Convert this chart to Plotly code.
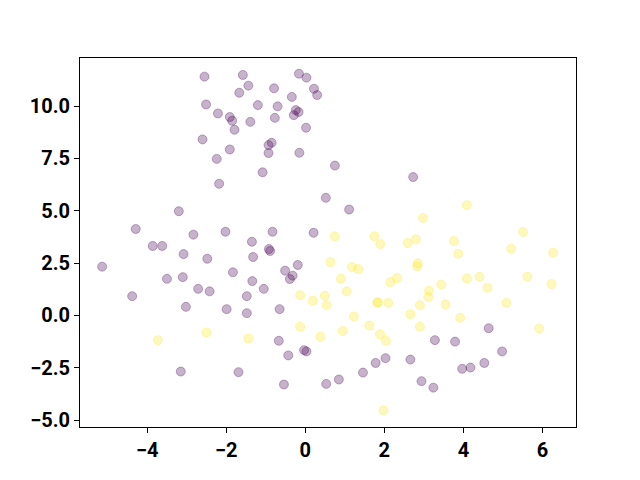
import plotly.graph_objects as go

purple_x = [-2.55, -1.58, -0.16, 0.03, -1.44, -0.79, -1.67, 0.22, 0.30, -0.34,
            -2.51, -1.20, -0.70, -0.24, -0.17, -0.29, -2.21, -1.91, -1.85, -1.39,
            -0.77, -1.79, 0.02, -2.60, -0.85, -0.93, -1.91, -0.93, -0.15, -2.24,
            -1.08, -2.18, 0.52, -3.20, -4.29, -2.83, -2.02, -0.83, 0.21,
            0.75, 2.73, 1.11,
            -0.03, 0.03, 4.64, 3.28, 3.79, 4.98, 2.03, 1.78, 2.66, 4.53, 3.97, 4.18,
            1.46, 0.53, 0.85, 2.94, 3.24,
            -1.35, -3.86, -3.62, -0.92, -0.89, -3.08, -2.48, -1.32, -5.14, -1.83,
            -0.19, -0.51, -0.32, -0.39, -3.50, -3.10, -1.34, -2.71, -2.42, -1.05,
            -4.38, -1.48, -3.02, -1.99, -0.65, -1.48, -0.67, -0.43, -3.15, -1.69, -0.54]
purple_y = [11.41, 11.49, 11.55, 11.36, 10.98, 10.85, 10.64, 10.83, 10.53, 10.44,
            10.08, 10.05, 9.99, 9.81, 9.72, 9.57, 9.65, 9.48, 9.30, 9.25,
            9.44, 8.87, 8.97, 8.41, 8.25, 8.14, 7.93, 7.76, 7.77, 7.48,
            6.84, 6.29, 5.62, 4.98, 4.13, 3.86, 4.00, 4.00, 3.95,
            7.16, 6.61, 5.06,
            -1.66, -1.72, -0.61, -1.18, -1.25, -1.72, -2.04, -2.27, -2.11, -2.27, -2.55, -2.49,
            -2.73, -3.27, -3.06, -3.14, -3.45,
            3.52, 3.32, 3.32, 3.17, 3.08, 2.93, 2.71, 2.79, 2.33, 2.06,
            2.41, 2.14, 1.90, 1.74, 1.75, 1.83, 1.64, 1.27, 1.15, 1.27,
            0.92, 0.92, 0.41, 0.30, 0.30, 0.11, -1.21, -1.91, -2.68, -2.71, -3.30]

yellow_x = [4.09, 2.98, 0.75, 1.75, 1.90, 2.59, 2.80, 3.76, 5.51, 3.87,
            5.21, 6.27, 0.64, 2.85, 2.83, 1.18, 1.34, 0.90, 2.32, 2.15,
            4.09, 4.41, 5.62, 6.23, 3.44, 4.61, 1.05, 3.13, -0.13, 0.49, 0.19,
            3.11, 0.54, 1.82, 1.84, 2.10, 2.90, 3.55, 5.09, 1.23, 2.66, 3.92,
            -0.13, 1.62, 2.90, 0.95, 0.38, 1.89, 2.04, 5.92, 1.98,
            -3.73, -2.50, -1.44]
yellow_y = [5.27, 4.66, 3.78, 3.78, 3.41, 3.46, 3.64, 3.56, 3.99, 2.95,
            3.19, 3.00, 2.55, 2.49, 2.35, 2.31, 2.22, 1.75, 1.79, 1.59,
            1.77, 1.85, 1.85, 1.50, 1.48, 1.32, 1.15, 1.18, 0.97, 0.94, 0.70,
            0.88, 0.49, 0.62, 0.62, 0.60, 0.49, 0.53, 0.60, -0.05, 0.06, -0.11,
            -0.54, -0.48, -0.54, -0.74, -1.02, -0.90, -1.21, -0.62, -4.53,
            -1.18, -0.81, -1.10]

x_ticks = [-4, -2, 0, 2, 4, 6]
y_ticks = [-5.0, -2.5, 0.0, 2.5, 5.0, 7.5, 10.0]

fig = go.Figure()
for xs, ys, col in [(purple_x, purple_y, "rgba(68,1,84,0.3)"),
                    (yellow_x, yellow_y, "rgba(253,231,37,0.3)")]:
    fig.add_trace(go.Scatter(x=xs, y=ys, mode="markers",
                             marker=dict(size=9, color=col,
                                         line=dict(color=col, width=1)),
                             showlegend=False, hoverinfo="skip"))

axis_common = dict(showgrid=False, zeroline=False, showline=True, linecolor="black",
                   linewidth=1, mirror=True, ticks="outside", ticklen=5,
                   tickcolor="black", tickwidth=1, automargin=False,
                   tickfont=dict(family="Roboto", size=20, color="black", weight="bold"))

fig.update_layout(
    width=640, height=480,
    margin=dict(l=72, r=72, t=50, b=61),
    paper_bgcolor="white", plot_bgcolor="white",
    xaxis=dict(range=[-5.70, 6.85], tickvals=x_ticks,
               ticktext=[f"{v:d}".replace("-", "\u2212") for v in x_ticks], **axis_common),
    yaxis=dict(range=[-5.33, 12.30], tickvals=y_ticks,
               ticktext=[f"{v:.1f}".replace("-", "\u2212") for v in y_ticks], **axis_common),
)

fig.write_html("out.html")
